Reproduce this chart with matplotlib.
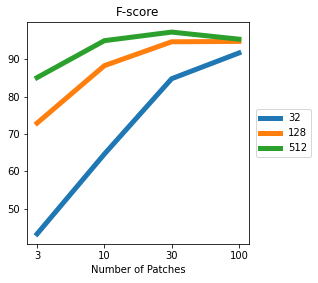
import numpy as np
import matplotlib
matplotlib.use('Agg')
import matplotlib.pyplot as plt

patches = ['3', '10', '30', '100']
sizes = ['32', '128', '512']
f32 = [43.2, 64.6, 84.8, 91.7]
f128 = [72.9, 88.3, 94.7, 94.8]
f512 = [85.1, 95.0, 97.3, 95.4]

fig = plt.figure(figsize=(318/72, 283/72), dpi=72)
ax = fig.add_axes([27/318, 39/283, 222/318, 222/283])

x = np.arange(len(patches))
for lab, ys in zip(sizes, [f32, f128, f512]):
	ax.plot(x, ys, '-', linewidth=5, label=lab)

ax.set_xticks(x)
ax.set_xticklabels(patches)
ax.set_yticks([50, 60, 70, 80, 90])
ax.set_xlabel('Number of Patches')
ax.set_title('F-score')
ax.legend(loc='center left', bbox_to_anchor=(1.01, 0.5))
fig.savefig('out.png', dpi=72)
